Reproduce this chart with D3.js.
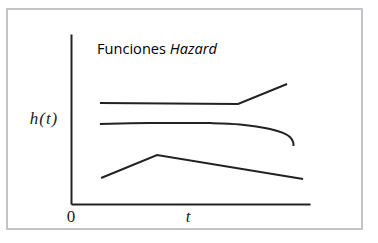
<!DOCTYPE html>
<html>
<head>
<meta charset="utf-8">
<script src="https://cdn.jsdelivr.net/npm/d3@7"></script>
<style>
  body { margin: 0; background: #fff; }
</style>
</head>
<body>
<div id="chart"></div>
<script>
// Hazard curves, values (0-100 on both axes)
var constIncX = [12.1, 69.9, 90.4];
var constIncY = [59.4, 58.8, 70.6];

var flatDecX = [12.1, 33.1, 58.2, 70.7, 83.3, 88.7, 91.6, 92.9, 93.1];
var flatDecY = [47.1, 47.6, 47.6, 46.8, 44.1, 41.8, 39.4, 36.5, 34.1];

var peakX = [12.6, 36.0, 97.1];
var peakY = [15.3, 28.8, 14.7];

var W = 378, H = 243;

var svg = d3.select("#chart")
    .append("svg")
    .attr("width", W)
    .attr("height", H);

// outer frame
svg.append("rect")
    .attr("x", 7)
    .attr("y", 9)
    .attr("width", 355)
    .attr("height", 220)
    .style("fill", "white")
    .style("stroke", "#c3c3c8")
    .style("stroke-width", 2);

var x = d3.scaleLinear()
    .domain([0, 100])
    .range([71, 310]);

var y = d3.scaleLinear()
    .domain([0, 100])
    .range([204, 34]);

// axes without ticks
svg.append("g")
    .attr("transform", "translate(0," + y(0) + ")")
    .call(d3.axisBottom(x).tickValues([]).tickSizeOuter(0))
    .select(".domain")
    .style("stroke", "#222")
    .style("stroke-width", 2);

svg.append("g")
    .attr("transform", "translate(" + x(0) + ",0)")
    .call(d3.axisLeft(y).tickValues([]).tickSizeOuter(0))
    .select(".domain")
    .style("stroke", "#222")
    .style("stroke-width", 2);

function toPts(xs, ys) {
    return xs.map(function (d, i) { return [d, ys[i]]; });
}

var straight = d3.line()
    .x(function (d) { return x(d[0]); })
    .y(function (d) { return y(d[1]); });

var smooth = d3.line()
    .x(function (d) { return x(d[0]); })
    .y(function (d) { return y(d[1]); })
    .curve(d3.curveCatmullRom.alpha(0.5));

var series = [
    { pts: toPts(constIncX, constIncY), gen: straight },
    { pts: toPts(flatDecX, flatDecY), gen: smooth },
    { pts: toPts(peakX, peakY), gen: straight }
];

svg.append("g")
    .selectAll("path")
    .data(series)
    .enter()
    .append("path")
    .attr("d", function (d) { return d.gen(d.pts); })
    .style("fill", "none")
    .style("stroke", "#222")
    .style("stroke-width", 2);

// title
var title = svg.append("text")
    .attr("x", 97)
    .attr("y", 54)
    .style("font-family", "'Open Sans', sans-serif")
    .style("font-size", "14.6px")
    .style("fill", "#000");
title.append("tspan").text("Funciones ");
title.append("tspan").style("font-style", "italic").text("Hazard");

// axis labels
svg.append("text")
    .attr("x", 44)
    .attr("y", 124)
    .attr("text-anchor", "middle")
    .style("font-family", "'Liberation Serif', serif")
    .style("font-style", "italic")
    .style("font-size", "17px")
    .style("letter-spacing", "1px")
    .style("fill", "#222")
    .text("h(t)");

svg.append("text")
    .attr("x", x(0))
    .attr("y", 222)
    .attr("text-anchor", "middle")
    .style("font-family", "'Liberation Serif', serif")
    .style("font-size", "17px")
    .style("fill", "#222")
    .text("0");

svg.append("text")
    .attr("x", 188)
    .attr("y", 222)
    .attr("text-anchor", "middle")
    .style("font-family", "'Liberation Serif', serif")
    .style("font-style", "italic")
    .style("font-size", "17px")
    .style("fill", "#222")
    .text("t");
</script>
</body>
</html>
